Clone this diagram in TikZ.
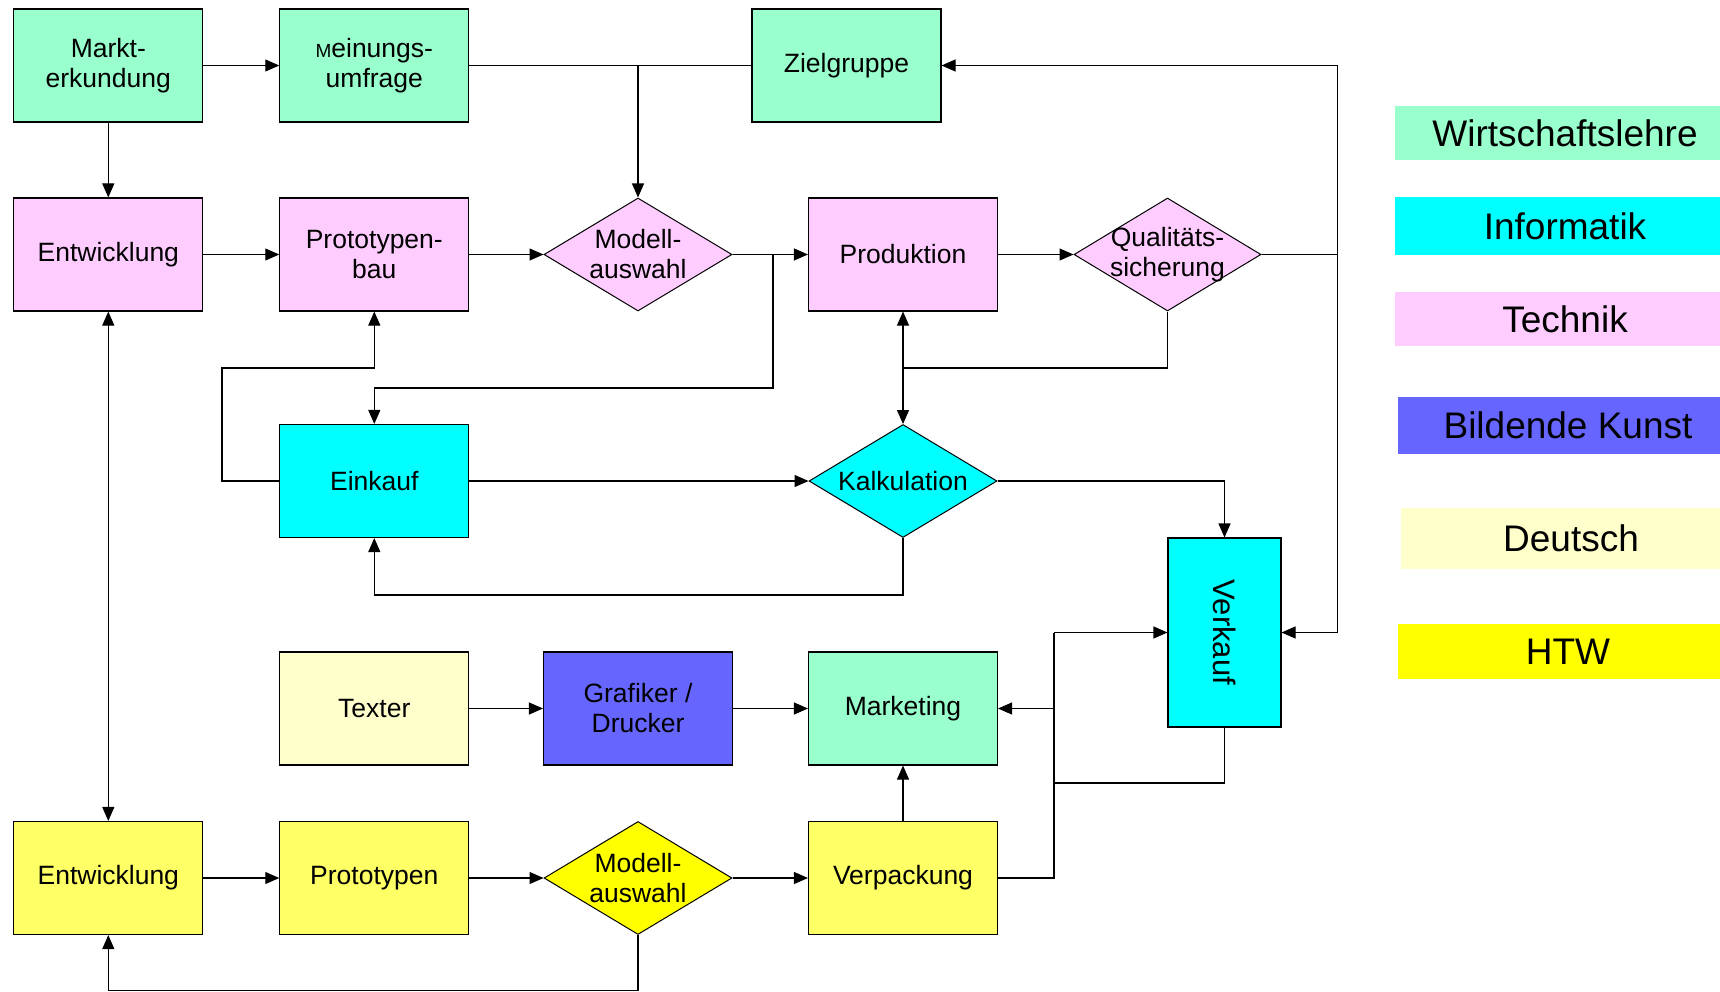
\documentclass[tikz,border=0pt]{standalone}
\usepackage{fontspec}
\setmainfont{Liberation Sans}
\usetikzlibrary{shapes.geometric,arrows.meta}
\definecolor{wl}{HTML}{99FFCC}
\definecolor{inf}{HTML}{00FFFF}
\definecolor{tech}{HTML}{FFCCFF}
\definecolor{kunst}{HTML}{6666FF}
\definecolor{deu}{HTML}{FFFFCC}
\definecolor{htw}{HTML}{FFFF00}
\definecolor{htwl}{HTML}{FFFF66}
\begin{document}
\begin{tikzpicture}[x=1pt,y=-1pt,
  box/.style={draw=black, line width=1.1pt, rectangle, minimum width=189pt, minimum height=113pt, inner sep=0pt, align=center, font=\fontsize{26.5}{30}\selectfont},
  dia/.style={draw=black, line width=1pt, diamond, minimum width=188pt, minimum height=113pt, inner sep=0pt},
  dtext/.style={align=center, inner sep=0pt, font=\fontsize{26.5}{30}\selectfont},
  conn/.style={line width=1.1pt},
  arr/.style={conn, -{Triangle[length=14pt,width=12pt]}},
  darr/.style={conn, {Triangle[length=14pt,width=12pt]}-{Triangle[length=14pt,width=12pt]}},
  legbox/.style={draw=none, rectangle, minimum width=340pt, inner sep=0pt, font=\fontsize{37}{37}\selectfont}
]
\clip (0,0) rectangle (1720,992);
\fill[white] (0,0) rectangle (1720,992);

% Row 1
\node[box, fill=wl] (markt) at (108.3,65.5) {Markt-\\erkundung};
\node[box, fill=wl] (mein) at (374.3,65.5) {{\fontsize{19}{30}\selectfont M}einungs-\\umfrage};
\node[box, fill=wl] (ziel) at (846.5,65.5) {Zielgruppe};

% Row 2
\node[box, fill=tech] (entw) at (108.3,254.5) {Entwicklung};
\node[box, fill=tech] (proto) at (374.3,254.5) {Prototypen-\\bau};
\node[dia, fill=tech] (modell) at (638,254.5) {};
\node[dtext] (modellT) at (modell) {Modell-\\auswahl};
\node[box, fill=tech] (prod) at (903,254.5) {Produktion};
\node[dia, fill=tech, minimum width=187pt] (quali) at (1167.5,254.5) {};
\node[dtext] (qualiT) at (quali) {Qualitäts-\\sicherung};

% Row 3
\node[box, fill=inf] (eink) at (374.3,481) {Einkauf};
\node[dia, fill=inf] (kalk) at (903,481) {};
\node[dtext] (kalkT) at (kalk) {Kalkulation};

% Verkauf
\node[box, fill=inf, minimum width=113pt, minimum height=189pt] (verk) at (1224.5,632.5) {};
\node[rotate=-90, inner sep=0pt, font=\fontsize{31}{31}\selectfont] (verkT) at (verk) {Verkauf};

% Row 4
\node[box, fill=deu] (texter) at (374.3,708.5) {Texter};
\node[box, fill=kunst] (graf) at (638,708.5) {Grafiker /\\Drucker};
\node[box, fill=wl] (market) at (903,708.5) {Marketing};

% Row 5
\node[box, fill=htwl] (entw2) at (108.3,878) {Entwicklung};
\node[box, fill=htwl] (proto2) at (374.3,878) {Prototypen};
\node[dia, fill=htw] (modell2) at (638,878) {};
\node[dtext] (modell2T) at (modell2) {Modell-\\auswahl};
\node[box, fill=htwl] (verp) at (903,878) {Verpackung};

% Legend
\node[legbox, fill=wl, minimum height=54pt] (lw) at (1565,133) {Wirtschaftslehre};
\node[legbox, fill=inf, minimum height=58pt] (li) at (1565,226) {Informatik};
\node[legbox, fill=tech, minimum height=54pt] (lt) at (1565,319) {Technik};
\node[legbox, fill=kunst, minimum height=57pt] (lb) at (1568,425.5) {Bildende Kunst};
\node[legbox, fill=deu, minimum height=61pt] (ld) at (1571,538.5) {Deutsch};
\node[legbox, fill=htw, minimum height=55pt] (lh) at (1568,651.5) {HTW};

% helper coordinates
\coordinate (j0) at (638,65.5);
\coordinate (j1) at (773,254.5);
\coordinate (c1) at (222,368);
\coordinate (c2) at (773,388);
\coordinate (c3) at (903,368);
\coordinate (c4) at (903,595);
\coordinate (r1) at (1337.6,65.5);
\coordinate (rq) at (1337.6,254.5);
\coordinate (r2) at (1337.6,632.5);
\coordinate (l1) at (1054,632.5);
\coordinate (l2) at (1054,708.5);
\coordinate (l3) at (1054,878);
\coordinate (l4) at (1054,783);
\coordinate (b1) at (638,990.5);

% Connectors row 1
\draw[arr] (markt) -- (mein);
\draw[arr] (markt) -- (entw);
\draw[conn] (mein.east) -- (ziel.west);
\draw[arr] (j0) -- (modell.north);
\draw[arr] (r1) -- (ziel.east);

% Row 2
\draw[arr] (entw) -- (proto);
\draw[arr] (proto.east) -- (modell.west);
\draw[arr] (modell.east) -- (prod.west);
\draw[arr] (prod.east) -- (quali.west);
\draw[conn] (quali.east) -- (rq);
\draw[conn] (r1) -- (r2);
\draw[arr] (r2) -- (verk.east);
\draw[conn] (quali.south) |- (c3);
\draw[darr] (prod.south) -- (kalk.north);
\draw[darr] (entw.south) -- (entw2.north);

% Row 3
\draw[arr] (eink.west) -| (c1) -| (proto.south);
\draw[arr] (j1) -- (c2) -| (eink.north);
\draw[arr] (eink.east) -- (kalk.west);
\draw[arr] (kalk.east) -| (verk.north);
\draw[arr] (kalk.south) -- (c4) -| (eink.south);

% Row 4
\draw[arr] (texter) -- (graf);
\draw[arr] (graf) -- (market);
\draw[arr] (l2) -- (market.east);
\draw[arr] (verp.north) -- (market.south);
\draw[conn] (verp.east) -- (l3) -- (l1);
\draw[arr] (l1) -- (verk.west);
\draw[conn] (verk.south) |- (l4);

% Row 5
\draw[arr] (entw2) -- (proto2);
\draw[arr] (proto2.east) -- (modell2.west);
\draw[arr] (modell2.east) -- (verp.west);
\draw[arr] (modell2.south) -- (b1) -| (entw2.south);
\end{tikzpicture}
\end{document}
